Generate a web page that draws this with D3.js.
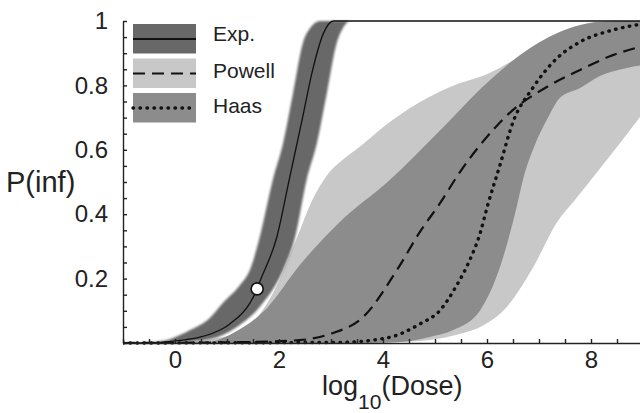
<!DOCTYPE html>
<html>
<head>
<meta charset="utf-8">
<style>
body { margin: 0; background: #fff; }
svg { font-family: "Liberation Sans", Arial, sans-serif; }
.axis path, .axis line { stroke: #222; stroke-width: 1.4; }
.axis text { fill: #222; font-size: 24px; font-family: "Liberation Sans", Arial, sans-serif; }
.title { fill: #222; }
</style>
</head>
<body>
<svg width="640" height="413"></svg>
<script src="https://cdn.jsdelivr.net/npm/d3@7"></script>
<script>
// [log10(dose), P(inf)]

// exponential model: credible band + median curve
var expUpper = [[-1,0],[-0.48,0.003],[-0.1,0.012],[0.29,0.04],[0.67,0.078],[0.92,0.124],[1.25,0.18],[1.44,0.227],[1.63,0.329],[1.88,0.506],[2.08,0.621],[2.27,0.776],[2.46,0.932],[2.6,0.978],[2.79,1],[9,1]];
var expLower = [[-1,0],[0.1,0.003],[0.67,0.012],[1.19,0.05],[1.69,0.124],[2.08,0.227],[2.31,0.329],[2.53,0.506],[2.73,0.621],[2.92,0.776],[3.11,0.932],[3.22,0.975],[3.37,1],[9,1]];
var expMean = [[-1,0],[-0.3,0.002],[0.1,0.008],[0.48,0.018],[0.92,0.045],[1.06,0.06],[1.44,0.124],[1.58,0.168],[1.63,0.19],[1.96,0.33],[2.2,0.51],[2.44,0.69],[2.65,0.85],[2.85,0.96],[3.05,1],[9,1]];
var expPoint = [1.58, 0.168];

// Powell model
var powellUpper = [[-1,0],[0.1,0.003],[0.87,0.016],[1.44,0.056],[1.92,0.165],[2.35,0.329],[2.63,0.44],[2.92,0.52],[3.25,0.572],[3.56,0.61],[4.0,0.67],[4.52,0.73],[5.29,0.795],[6.06,0.839],[6.63,0.89],[7.4,0.966],[8.17,0.997],[9,1]];
var powellLower = [[-1,0],[3.75,0],[4.33,0.003],[4.9,0.009],[5.54,0.031],[5.87,0.05],[6.38,0.112],[6.88,0.233],[7.35,0.376],[7.69,0.444],[8.12,0.531],[8.56,0.621],[9,0.714]];
var powellMean = [[-1,0],[1.44,0.003],[2.4,0.009],[2.98,0.028],[3.62,0.081],[4.27,0.227],[4.71,0.345],[5.1,0.435],[5.48,0.531],[5.87,0.615],[6.5,0.724],[7.15,0.795],[7.79,0.848],[8.42,0.894],[9,0.922]];

// Haas model
var haasUpper = [[-1,0],[0.1,0.002],[0.62,0.003],[1.12,0.031],[1.77,0.109],[2.4,0.242],[3.17,0.376],[4.13,0.506],[5.1,0.661],[6.06,0.817],[6.63,0.894],[7.4,0.966],[8.17,0.997],[9,1]];
var haasLower = [[-1,0],[3.37,0],[4.33,0.003],[4.9,0.019],[5.35,0.04],[5.87,0.102],[6.25,0.236],[6.58,0.429],[6.69,0.506],[6.92,0.615],[7.15,0.693],[7.4,0.761],[7.79,0.792],[8.17,0.829],[8.69,0.854],[9,0.863]];
var haasMean = [[-1,0],[3.17,0.002],[4.08,0.016],[4.71,0.059],[5.1,0.102],[5.42,0.18],[5.67,0.258],[5.87,0.342],[6,0.42],[6.25,0.553],[6.5,0.686],[6.88,0.792],[7.35,0.885],[7.79,0.935],[8.42,0.972],[9,0.991]];

var models = ["Exp.", "Powell", "Haas"];
var xLabels = [0, 2, 4, 6, 8];
var yLabels = [0.2, 0.4, 0.6, 0.8, 1];

var svg = d3.select("svg");

var x = d3.scaleLinear().domain([-1, 9]).range([123, 643]);
var y = d3.scaleLinear().domain([0, 1]).range([343, 21]);

var fills = { "Exp.": "#686868", "Powell": "#c8c8c8", "Haas": "#8c8c8c" };
var dashes = { "Exp.": null, "Powell": "12,7", "Haas": "0.5,6.5" };
var widths = { "Exp.": 1.3, "Powell": 2.2, "Haas": 3.4 };

var defs = svg.append("defs");
defs.append("clipPath").attr("id", "plot")
  .append("rect").attr("x", x(-1)).attr("y", y(1) - 3)
  .attr("width", x(9) - x(-1)).attr("height", y(0) - y(1) + 5);
defs.append("filter").attr("id", "soft")
  .attr("x", "-10%").attr("y", "-10%").attr("width", "120%").attr("height", "120%")
  .append("feGaussianBlur").attr("stdDeviation", 1.2);

var line = d3.line()
  .x(function(d) { return x(d[0]); })
  .y(function(d) { return y(d[1]); })
  .curve(d3.curveMonotoneX);

// closed band: upper edge out, lower edge back
function band(upper, lower) {
  return line(upper) + line(lower.slice().reverse()).replace(/^M/, "L") + "Z";
}

var g = svg.append("g").attr("clip-path", "url(#plot)");

g.append("path").attr("d", band(powellUpper, powellLower)).attr("fill", fills["Powell"]);
g.append("path").attr("d", band(haasUpper, haasLower)).attr("fill", fills["Haas"]);
g.append("path").attr("d", band(expUpper, expLower)).attr("fill", fills["Exp."])
  .attr("filter", "url(#soft)");

var means = [["Powell", powellMean], ["Haas", haasMean], ["Exp.", expMean]];
means.forEach(function(m) {
  g.append("path")
    .attr("d", line(m[1]))
    .attr("fill", "none")
    .attr("stroke", "#111")
    .attr("stroke-width", widths[m[0]])
    .attr("stroke-linecap", m[0] === "Haas" ? "round" : "butt")
    .attr("stroke-dasharray", dashes[m[0]]);
});

g.append("circle")
  .attr("cx", x(expPoint[0])).attr("cy", y(expPoint[1])).attr("r", 6)
  .attr("fill", "#fff").attr("stroke", "#111").attr("stroke-width", 1.6);

// axes, ticks pointing inward
var xTicks = d3.range(-1, 9.01, 0.5);
var yTicks = d3.range(0, 1.001, 0.05);

svg.append("g").attr("class", "axis")
  .attr("transform", "translate(0," + y(0) + ")")
  .call(d3.axisBottom(x).tickValues(xTicks).tickSizeInner(-4).tickSizeOuter(0).tickPadding(8)
    .tickFormat(function(d) { return xLabels.indexOf(Math.round(d * 10) / 10) >= 0 ? d : ""; }));

svg.append("g").attr("class", "axis")
  .attr("transform", "translate(" + x(-1) + ",0)")
  .call(d3.axisLeft(y).tickValues(yTicks).tickSizeInner(-4).tickSizeOuter(0).tickPadding(15)
    .tickFormat(function(d) {
      var r = Math.round(d * 100) / 100;
      if (yLabels.indexOf(r) < 0) return "";
      return r === 1 ? "1" : d3.format(".1f")(r);
    }));

svg.selectAll(".axis .domain").attr("stroke-width", 1.6);

// axis titles
svg.append("text").attr("class", "title")
  .attr("x", 6).attr("y", 192).attr("font-size", 29).text("P(inf)");

var xt = svg.append("text").attr("class", "title")
  .attr("x", 322).attr("y", 395).attr("font-size", 27);
xt.append("tspan").text("log");
xt.append("tspan").attr("font-size", 21).attr("dy", 14).text("10");
xt.append("tspan").attr("dy", -14).text("(Dose)");

// legend
var leg = svg.append("g").selectAll("g").data(models).enter().append("g")
  .attr("transform", function(d, i) { return "translate(133," + (24 + i * 34.5) + ")"; });

leg.append("rect")
  .attr("width", 63).attr("height", 29.5)
  .attr("fill", function(d) { return fills[d]; });

leg.append("line")
  .attr("x1", 0).attr("x2", 63).attr("y1", 15).attr("y2", 15)
  .attr("stroke", "#111")
  .attr("stroke-width", function(d) { return d === "Exp." ? 2 : widths[d]; })
  .attr("stroke-linecap", function(d) { return d === "Haas" ? "round" : "butt"; })
  .attr("stroke-dasharray", function(d) { return dashes[d]; });

leg.append("text")
  .attr("x", 80).attr("y", function(d, i) { return [17, 19, 20][i]; })
  .attr("font-size", 21).attr("fill", "#222")
  .text(function(d) { return d; });
</script>
</body>
</html>
